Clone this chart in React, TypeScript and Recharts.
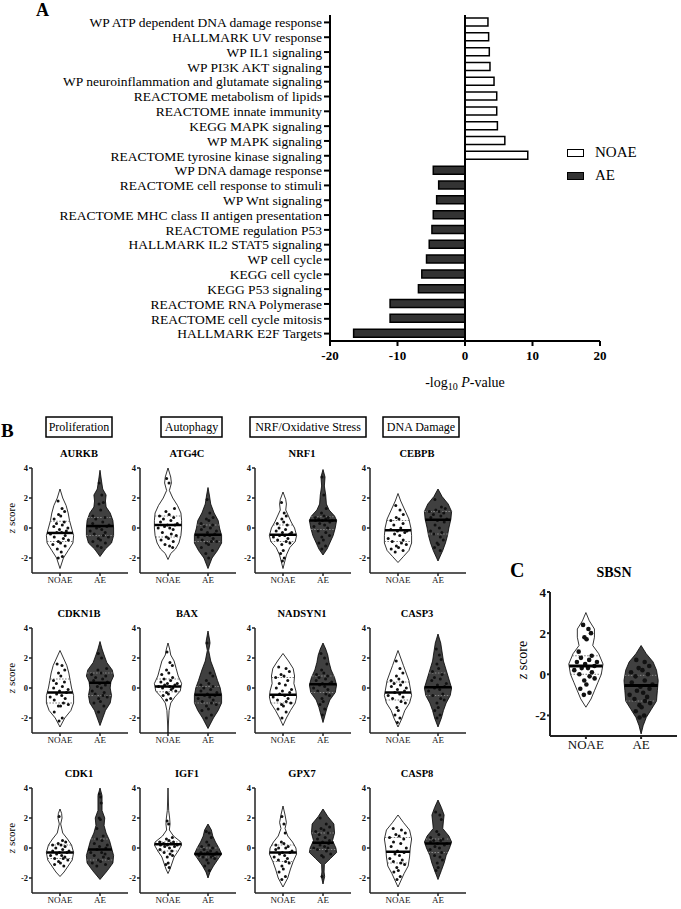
import React from 'react';
import { BarChart, Bar, XAxis, YAxis, ReferenceLine, Legend, ScatterChart, Scatter } from 'recharts';

const FONT = '"Liberation Serif", "Times New Roman", Times, serif';

// ---------- Panel A data ----------
const pathwayNames = [
  'WP ATP dependent DNA damage response',
  'HALLMARK UV response',
  'WP IL1 signaling',
  'WP PI3K AKT signaling',
  'WP neuroinflammation and glutamate signaling',
  'REACTOME metabolism of lipids',
  'REACTOME innate immunity',
  'KEGG MAPK signaling',
  'WP MAPK signaling',
  'REACTOME tyrosine kinase signaling',
  'WP DNA damage response',
  'REACTOME cell response to stimuli',
  'WP Wnt signaling',
  'REACTOME MHC class II antigen presentation',
  'REACTOME regulation P53',
  'HALLMARK IL2 STAT5 signaling',
  'WP cell cycle',
  'KEGG cell cycle',
  'KEGG P53 signaling',
  'REACTOME RNA Polymerase',
  'REACTOME cell cycle mitosis',
  'HALLMARK E2F Targets',
];
const noaeValues = [3.4, 3.5, 3.6, 3.7, 4.3, 4.7, 4.7, 4.8, 5.9, 9.3, null, null, null, null, null, null, null, null, null, null, null, null];
const aeValues = [null, null, null, null, null, null, null, null, null, null, -4.7, -3.9, -4.2, -4.7, -4.9, -5.3, -5.7, -6.4, -6.9, -11.1, -11.1, -16.5];
const barTicks = [-20, -10, 0, 10, 20];
const legendOrder = ['NOAE', 'AE'];

// ---------- Violin data: shape = [z, relative half width], dots = z values, stats = [q1, median, q3] ----------
type Pair = [number, number];

const AURKB_NOAE_SHAPE: Pair[] = [[2.6, 0], [2.0, 0.2], [1.5, 0.45], [1.0, 0.6], [0.5, 0.7], [0, 0.85], [-0.5, 1], [-1.0, 0.95], [-1.5, 0.6], [-2.0, 0.25], [-2.7, 0]];
const AURKB_NOAE_DOTS = [1.8, 1.3, 1.1, 0.9, 0.8, 0.6, 0.4, 0.3, 0.2, 0.1, 0, -0.1, -0.2, -0.3, -0.3, -0.4, -0.5, -0.6, -0.7, -0.8, -0.9, -1.0, -1.1, -1.2, -1.4, -1.6, -1.9, -2.0];
const AURKB_NOAE_STATS = [-0.9, -0.33, 0.45];
const AURKB_AE_SHAPE: Pair[] = [[3.85, 0], [3.2, 0.1], [2.6, 0.2], [2.2, 0.45], [1.8, 0.4], [1.4, 0.45], [1.0, 0.75], [0.5, 0.95], [0, 1], [-0.5, 1], [-1.0, 0.85], [-1.4, 0.4], [-1.9, 0]];
const AURKB_AE_DOTS = [3.0, 2.2, 1.7, 1.6, 1.2, 0.8, 0.7, 0.6, 0.4, 0.3, 0.2, 0.1, 0.1, 0, -0.1, -0.2, -0.3, -0.4, -0.5, -0.6, -0.7, -0.8, -0.9, -1.0, -1.2, -1.3];
const AURKB_AE_STATS = [-0.5, 0.13, 0.7];

const ATG4C_NOAE_SHAPE: Pair[] = [[4.0, 0], [3.4, 0.2], [3.0, 0.25], [2.5, 0.1], [2.0, 0.35], [1.5, 0.7], [1.0, 0.95], [0.5, 1], [0, 1], [-0.5, 0.95], [-1.0, 0.8], [-1.4, 0.55], [-1.7, 0.2], [-2.1, 0]];
const ATG4C_NOAE_DOTS = [3.3, 3.0, 1.3, 1.1, 0.9, 0.8, 0.7, 0.6, 0.5, 0.4, 0.3, 0.2, 0.2, 0.1, 0, 0, -0.1, -0.3, -0.4, -0.5, -0.6, -0.7, -0.8, -0.9, -1.1, -1.2, -1.3];
const ATG4C_NOAE_STATS = [-0.6, 0.2, 0.8];
const ATG4C_AE_SHAPE: Pair[] = [[2.7, 0], [2.2, 0.1], [1.6, 0.2], [1.0, 0.45], [0.5, 0.75], [0, 0.85], [-0.5, 1], [-1.0, 1], [-1.5, 0.7], [-2.0, 0.3], [-2.7, 0]];
const ATG4C_AE_DOTS = [1.9, 1.0, 0.7, 0.6, 0.5, 0.3, 0.2, 0.1, 0, -0.1, -0.2, -0.3, -0.4, -0.5, -0.5, -0.6, -0.7, -0.8, -0.9, -0.9, -1.0, -1.1, -1.3, -1.5, -1.7, -2.0];
const ATG4C_AE_STATS = [-0.9, -0.45, 0.2];

const NRF1_NOAE_SHAPE: Pair[] = [[2.4, 0], [1.9, 0.2], [1.6, 0.25], [1.2, 0.2], [0.8, 0.4], [0.4, 0.6], [0, 0.85], [-0.5, 1], [-0.9, 0.9], [-1.3, 0.5], [-1.8, 0.25], [-2.7, 0]];
const NRF1_NOAE_DOTS = [1.7, 1.0, 0.8, 0.6, 0.4, 0.3, 0.2, 0, -0.1, -0.2, -0.3, -0.3, -0.4, -0.5, -0.5, -0.6, -0.7, -0.8, -0.9, -1.0, -1.1, -1.5, -1.7, -2.0, -2.2];
const NRF1_NOAE_STATS = [-0.9, -0.45, 0.2];
const NRF1_AE_SHAPE: Pair[] = [[3.9, 0], [3.4, 0.15], [2.8, 0.1], [2.2, 0.2], [1.6, 0.25], [1.2, 0.45], [0.8, 0.85], [0.5, 1], [0, 0.9], [-0.5, 0.75], [-1.0, 0.5], [-1.4, 0.3], [-1.8, 0]];
const NRF1_AE_DOTS = [3.4, 2.2, 1.3, 1.0, 0.8, 0.7, 0.7, 0.6, 0.6, 0.5, 0.5, 0.5, 0.4, 0.3, 0.2, 0.1, 0, -0.2, -0.3, -0.5, -0.6, -0.8, -1.0, -1.2, -1.4];
const NRF1_AE_STATS = [-0.1, 0.5, 0.75];

const CEBPB_NOAE_SHAPE: Pair[] = [[2.3, 0], [1.8, 0.2], [1.2, 0.5], [0.6, 0.8], [0, 0.95], [-0.5, 1], [-1.0, 1], [-1.5, 0.8], [-1.9, 0.4], [-2.3, 0]];
const CEBPB_NOAE_DOTS = [1.5, 1.2, 0.9, 0.7, 0.6, 0.5, 0.3, 0.2, 0, -0.1, -0.2, -0.2, -0.3, -0.4, -0.5, -0.7, -0.8, -0.9, -1.0, -1.1, -1.2, -1.3, -1.4, -1.5, -1.6];
const CEBPB_NOAE_STATS = [-0.9, -0.15, 0.5];
const CEBPB_AE_SHAPE: Pair[] = [[2.6, 0], [2.1, 0.3], [1.6, 0.75], [1.1, 1], [0.6, 0.95], [0, 0.8], [-0.5, 0.7], [-1.0, 0.55], [-1.5, 0.35], [-2.2, 0]];
const CEBPB_AE_DOTS = [1.9, 1.4, 1.3, 1.2, 1.1, 1.1, 1.0, 0.9, 0.8, 0.7, 0.6, 0.5, 0.4, 0.2, 0, -0.2, -0.3, -0.4, -0.6, -0.8, -1.0, -1.1, -1.3, -1.5];
const CEBPB_AE_STATS = [-0.4, 0.55, 1.1];

const CDKN1B_NOAE_SHAPE: Pair[] = [[2.5, 0], [2.0, 0.25], [1.5, 0.5], [1.0, 0.65], [0.5, 0.75], [0, 0.85], [-0.5, 1], [-1.0, 1], [-1.5, 0.8], [-2.0, 0.35], [-2.6, 0]];
const CDKN1B_NOAE_DOTS = [1.6, 1.5, 1.2, 1.0, 0.8, 0.5, 0.4, 0.3, 0.1, 0, -0.1, -0.2, -0.3, -0.4, -0.5, -0.6, -0.7, -0.8, -1.0, -1.1, -1.2, -1.2, -1.6, -2.0, -2.2];
const CDKN1B_NOAE_STATS = [-1.0, -0.3, 0.6];
const CDKN1B_AE_SHAPE: Pair[] = [[3.1, 0], [2.6, 0.15], [2.2, 0.3], [1.7, 0.5], [1.2, 0.9], [0.8, 1], [0.4, 0.8], [0, 0.75], [-0.5, 0.85], [-1.0, 0.75], [-1.5, 0.4], [-2.0, 0.2], [-2.5, 0]];
const CDKN1B_AE_DOTS = [2.3, 2.0, 1.3, 1.2, 1.0, 0.9, 0.8, 0.7, 0.6, 0.5, 0.4, 0.3, 0.2, 0.1, 0, -0.2, -0.3, -0.4, -0.5, -0.6, -0.7, -0.9, -1.0, -1.2, -1.6];
const CDKN1B_AE_STATS = [-0.5, 0.35, 1.0];

const BAX_NOAE_SHAPE: Pair[] = [[3.0, 0], [2.6, 0.12], [2.2, 0.2], [1.8, 0.45], [1.3, 0.6], [0.8, 0.75], [0.3, 1], [-0.2, 0.9], [-0.6, 0.5], [-1.0, 0.2], [-1.5, 0.08], [-2.2, 0.04], [-3.0, 0]];
const BAX_NOAE_DOTS = [2.4, 1.7, 1.5, 1.2, 1.0, 0.9, 0.7, 0.6, 0.5, 0.4, 0.3, 0.3, 0.2, 0.2, 0.1, 0.1, 0, 0, -0.1, -0.2, -0.3, -0.4, -0.5, -0.7, -0.8];
const BAX_NOAE_STATS = [-0.25, 0.1, 0.6];
const BAX_AE_SHAPE: Pair[] = [[3.8, 0], [3.2, 0.12], [3.0, 0.15], [2.5, 0.05], [1.8, 0.2], [1.2, 0.45], [0.5, 0.7], [0, 0.9], [-0.5, 1], [-1.0, 1], [-1.5, 0.75], [-2.0, 0.4], [-2.7, 0]];
const BAX_AE_DOTS = [3.0, 1.0, 0.8, 0.5, 0.3, 0.2, 0.1, 0, -0.1, -0.2, -0.3, -0.4, -0.5, -0.5, -0.6, -0.7, -0.8, -0.9, -1.0, -1.1, -1.2, -1.4, -1.5, -1.8, -2.0];
const BAX_AE_STATS = [-1.0, -0.45, 0.1];

const NADSYN1_NOAE_SHAPE: Pair[] = [[2.3, 0], [1.8, 0.4], [1.3, 0.75], [0.8, 0.85], [0.3, 0.8], [-0.2, 0.95], [-0.6, 1], [-1.0, 0.9], [-1.5, 0.55], [-2.0, 0.25], [-2.5, 0]];
const NADSYN1_NOAE_DOTS = [1.4, 1.3, 1.1, 0.9, 0.8, 0.7, 0.5, 0.3, 0.2, 0, -0.1, -0.2, -0.3, -0.4, -0.5, -0.6, -0.7, -0.8, -0.9, -1.0, -1.1, -1.2, -1.4, -1.6, -2.0];
const NADSYN1_NOAE_STATS = [-1.0, -0.45, 0.7];
const NADSYN1_AE_SHAPE: Pair[] = [[3.0, 0], [2.6, 0.2], [2.2, 0.35], [1.7, 0.45], [1.2, 0.6], [0.7, 0.85], [0.2, 1], [-0.3, 0.9], [-0.8, 0.5], [-1.3, 0.3], [-1.8, 0.15], [-2.3, 0]];
const NADSYN1_AE_DOTS = [2.3, 2.0, 1.6, 1.2, 1.0, 0.9, 0.8, 0.7, 0.6, 0.5, 0.4, 0.3, 0.3, 0.2, 0.1, 0, -0.1, -0.2, -0.4, -0.5, -0.7, -0.9, -1.1, -1.4, -1.8];
const NADSYN1_AE_STATS = [-0.3, 0.25, 0.8];

const CASP3_NOAE_SHAPE: Pair[] = [[2.5, 0], [2.0, 0.2], [1.5, 0.4], [1.0, 0.6], [0.5, 0.8], [0, 0.9], [-0.5, 1], [-1.0, 0.85], [-1.5, 0.5], [-2.0, 0.3], [-2.6, 0]];
const CASP3_NOAE_DOTS = [1.8, 1.3, 1.0, 0.8, 0.6, 0.5, 0.4, 0.3, 0.2, 0.1, 0, -0.1, -0.2, -0.3, -0.4, -0.5, -0.6, -0.7, -0.9, -1.0, -1.3, -1.5, -1.8, -2.0, -2.3];
const CASP3_NOAE_STATS = [-0.8, -0.3, 0.4];
const CASP3_AE_SHAPE: Pair[] = [[3.6, 0], [3.0, 0.2], [2.4, 0.3], [1.8, 0.4], [1.2, 0.6], [0.6, 0.8], [0, 1], [-0.5, 0.9], [-1.0, 0.6], [-1.5, 0.4], [-2.0, 0.25], [-2.6, 0]];
const CASP3_AE_DOTS = [2.6, 2.2, 1.9, 1.6, 1.3, 1.1, 0.9, 0.7, 0.6, 0.5, 0.3, 0.2, 0.1, 0, -0.1, -0.2, -0.4, -0.5, -0.7, -0.8, -1.0, -1.3, -1.5, -1.8, -2.0];
const CASP3_AE_STATS = [-0.5, 0.05, 1.0];

const CDK1_NOAE_SHAPE: Pair[] = [[2.6, 0], [2.3, 0.12], [2.0, 0.15], [1.6, 0.05], [1.0, 0.2], [0.6, 0.55], [0.2, 0.85], [-0.3, 1], [-0.8, 0.9], [-1.2, 0.6], [-1.6, 0.3], [-1.9, 0]];
const CDK1_NOAE_DOTS = [2.1, 0.5, 0.4, 0.3, 0.2, 0.2, 0.1, 0, -0.1, -0.2, -0.2, -0.3, -0.3, -0.4, -0.5, -0.5, -0.6, -0.7, -0.7, -0.8, -0.9, -1.0, -1.1, -1.2];
const CDK1_NOAE_STATS = [-0.7, -0.3, 0.2];
const CDK1_AE_SHAPE: Pair[] = [[4.0, 0], [3.5, 0.15], [3.0, 0.15], [2.5, 0.15], [2.0, 0.35], [1.5, 0.3], [1.0, 0.45], [0.5, 0.7], [0, 0.85], [-0.5, 1], [-1.0, 0.95], [-1.5, 0.55], [-2.1, 0]];
const CDK1_AE_DOTS = [3.6, 3.4, 3.0, 2.0, 1.9, 1.3, 0.8, 0.6, 0.5, 0.3, 0.2, 0.1, 0, -0.1, -0.3, -0.3, -0.4, -0.5, -0.6, -0.7, -0.8, -0.9, -1.0, -1.1, -1.2];
const CDK1_AE_STATS = [-0.8, -0.1, 0.6];

const IGF1_NOAE_SHAPE: Pair[] = [[4.0, 0], [2.5, 0.05], [2.0, 0.12], [1.6, 0.15], [1.2, 0.1], [0.8, 0.4], [0.4, 0.95], [0.2, 1], [-0.2, 0.75], [-0.6, 0.45], [-1.0, 0.3], [-1.4, 0.15], [-1.7, 0]];
const IGF1_NOAE_DOTS = [1.8, 1.6, 0.7, 0.6, 0.5, 0.4, 0.4, 0.3, 0.3, 0.2, 0.2, 0.2, 0.1, 0.1, 0, -0.1, -0.2, -0.3, -0.4, -0.5, -0.6, -1.0, -1.1, -1.3];
const IGF1_NOAE_STATS = [-0.2, 0.25, 0.4];
const IGF1_AE_SHAPE: Pair[] = [[1.6, 0], [1.2, 0.25], [0.8, 0.35], [0.4, 0.55], [0, 0.8], [-0.4, 1], [-0.8, 0.7], [-1.2, 0.4], [-1.6, 0.15], [-2.0, 0]];
const IGF1_AE_DOTS = [1.1, 1.0, 0.7, 0.4, 0.2, 0.1, 0, -0.1, -0.2, -0.3, -0.3, -0.3, -0.4, -0.4, -0.4, -0.5, -0.5, -0.6, -0.6, -0.7, -0.8, -1.0, -1.2, -1.5];
const IGF1_AE_STATS = [-0.6, -0.4, 0];

const GPX7_NOAE_SHAPE: Pair[] = [[2.8, 0], [2.2, 0.15], [1.7, 0.25], [1.3, 0.15], [0.8, 0.35], [0.4, 0.7], [0, 0.95], [-0.4, 1], [-0.9, 0.75], [-1.4, 0.55], [-2.0, 0.35], [-2.6, 0]];
const GPX7_NOAE_DOTS = [2.1, 1.6, 1.0, 0.4, 0.3, 0.2, 0.1, 0, 0, -0.1, -0.2, -0.3, -0.3, -0.4, -0.5, -0.6, -0.7, -0.8, -0.9, -1.0, -1.2, -1.4, -1.6, -1.9, -2.1];
const GPX7_NOAE_STATS = [-0.9, -0.3, 0.2];
const GPX7_AE_SHAPE: Pair[] = [[2.6, 0], [2.1, 0.35], [1.6, 0.8], [1.0, 0.85], [0.5, 0.7], [0, 0.95], [-0.3, 1], [-0.7, 0.55], [-1.1, 0.1], [-1.6, 0.08], [-1.9, 0.12], [-2.4, 0]];
const GPX7_AE_DOTS = [2.0, 1.6, 1.4, 1.3, 1.2, 1.1, 1.0, 0.9, 0.7, 0.6, 0.5, 0.4, 0.3, 0.2, 0.1, 0, 0, -0.1, -0.2, -0.4, -0.5, -0.6, -1.9];
const GPX7_AE_STATS = [-0.1, 0.35, 1.0];

const CASP8_NOAE_SHAPE: Pair[] = [[2.2, 0], [1.7, 0.4], [1.2, 0.85], [0.6, 1], [0, 0.9], [-0.6, 0.85], [-1.2, 0.75], [-1.7, 0.45], [-2.2, 0.2], [-2.6, 0]];
const CASP8_NOAE_DOTS = [1.3, 1.2, 1.0, 0.9, 0.8, 0.7, 0.6, 0.4, 0.3, 0.1, 0, -0.2, -0.3, -0.4, -0.5, -0.7, -0.8, -0.9, -1.0, -1.1, -1.3, -1.5, -1.6, -1.9, -2.1];
const CASP8_NOAE_STATS = [-1.0, -0.25, 0.7];
const CASP8_AE_SHAPE: Pair[] = [[3.2, 0], [2.7, 0.25], [2.2, 0.45], [1.8, 0.4], [1.3, 0.35], [0.8, 0.8], [0.4, 1], [0, 0.85], [-0.5, 0.6], [-1.0, 0.45], [-1.5, 0.25], [-2.1, 0]];
const CASP8_AE_DOTS = [2.4, 2.2, 1.9, 1.1, 0.9, 0.7, 0.6, 0.5, 0.5, 0.4, 0.3, 0.3, 0.2, 0.1, 0, -0.1, -0.3, -0.5, -0.6, -0.8, -1.0, -1.3, -1.5];
const CASP8_AE_STATS = [-0.3, 0.3, 0.6];

const SBSN_NOAE_SHAPE: Pair[] = [[3.0, 0], [2.6, 0.2], [2.2, 0.5], [1.8, 0.5], [1.4, 0.4], [1.0, 0.75], [0.5, 1], [0, 0.9], [-0.4, 0.7], [-0.8, 0.5], [-1.2, 0.3], [-1.6, 0]];
const SBSN_NOAE_DOTS = [2.4, 2.2, 2.0, 1.8, 1.7, 1.1, 0.9, 0.8, 0.7, 0.6, 0.6, 0.5, 0.4, 0.3, 0.3, 0.2, 0.1, 0, -0.1, -0.2, -0.3, -0.5, -0.7, -0.9, -1.0];
const SBSN_NOAE_STATS = [0, 0.4, 0.9];
const SBSN_AE_SHAPE: Pair[] = [[1.4, 0], [1.0, 0.3], [0.6, 0.7], [0.2, 0.9], [-0.3, 1], [-0.8, 0.95], [-1.3, 0.9], [-1.7, 0.6], [-2.1, 0.3], [-2.5, 0.12], [-2.9, 0]];
const SBSN_AE_DOTS = [0.7, 0.6, 0.4, 0.3, 0.2, 0.1, 0, -0.1, -0.3, -0.4, -0.5, -0.6, -0.7, -0.8, -0.9, -1.0, -1.1, -1.2, -1.3, -1.4, -1.5, -1.6, -1.8, -2.0, -2.1];
const SBSN_AE_STATS = [-1.3, -0.55, -0.05];

const groupLabels = ['NOAE', 'AE'];
const violinTicks = [-2, 0, 2, 4];
const categoryBoxes = ['Proliferation', 'Autophagy', 'NRF/Oxidative Stress', 'DNA Damage'];

// horizontal spread pattern for the dots (layout only)
const JITTER = [-0.55, 0.35, 0.7, -0.2, 0.1, -0.75, 0.5, -0.4, 0.25, -0.65, 0.8, -0.05, 0.6, -0.3, 0.15, -0.85, 0.45, -0.5, 0.3, 0.75, -0.15, 0.05, -0.7, 0.55, -0.35, 0.2, 0.65, -0.6, 0.4, -0.25];

type Group = { shape: Pair[]; dots: number[]; stats: number[] };
type Gene = { name: string; noae: Group; ae: Group };
const mk = (name: string, ns: Pair[], nd: number[], nq: number[], as: Pair[], ad: number[], aq: number[]): Gene => ({
  name,
  noae: { shape: ns, dots: nd, stats: nq },
  ae: { shape: as, dots: ad, stats: aq },
});

const GRID_GENES: Gene[][] = [
  [
    mk('AURKB', AURKB_NOAE_SHAPE, AURKB_NOAE_DOTS, AURKB_NOAE_STATS, AURKB_AE_SHAPE, AURKB_AE_DOTS, AURKB_AE_STATS),
    mk('ATG4C', ATG4C_NOAE_SHAPE, ATG4C_NOAE_DOTS, ATG4C_NOAE_STATS, ATG4C_AE_SHAPE, ATG4C_AE_DOTS, ATG4C_AE_STATS),
    mk('NRF1', NRF1_NOAE_SHAPE, NRF1_NOAE_DOTS, NRF1_NOAE_STATS, NRF1_AE_SHAPE, NRF1_AE_DOTS, NRF1_AE_STATS),
    mk('CEBPB', CEBPB_NOAE_SHAPE, CEBPB_NOAE_DOTS, CEBPB_NOAE_STATS, CEBPB_AE_SHAPE, CEBPB_AE_DOTS, CEBPB_AE_STATS),
  ],
  [
    mk('CDKN1B', CDKN1B_NOAE_SHAPE, CDKN1B_NOAE_DOTS, CDKN1B_NOAE_STATS, CDKN1B_AE_SHAPE, CDKN1B_AE_DOTS, CDKN1B_AE_STATS),
    mk('BAX', BAX_NOAE_SHAPE, BAX_NOAE_DOTS, BAX_NOAE_STATS, BAX_AE_SHAPE, BAX_AE_DOTS, BAX_AE_STATS),
    mk('NADSYN1', NADSYN1_NOAE_SHAPE, NADSYN1_NOAE_DOTS, NADSYN1_NOAE_STATS, NADSYN1_AE_SHAPE, NADSYN1_AE_DOTS, NADSYN1_AE_STATS),
    mk('CASP3', CASP3_NOAE_SHAPE, CASP3_NOAE_DOTS, CASP3_NOAE_STATS, CASP3_AE_SHAPE, CASP3_AE_DOTS, CASP3_AE_STATS),
  ],
  [
    mk('CDK1', CDK1_NOAE_SHAPE, CDK1_NOAE_DOTS, CDK1_NOAE_STATS, CDK1_AE_SHAPE, CDK1_AE_DOTS, CDK1_AE_STATS),
    mk('IGF1', IGF1_NOAE_SHAPE, IGF1_NOAE_DOTS, IGF1_NOAE_STATS, IGF1_AE_SHAPE, IGF1_AE_DOTS, IGF1_AE_STATS),
    mk('GPX7', GPX7_NOAE_SHAPE, GPX7_NOAE_DOTS, GPX7_NOAE_STATS, GPX7_AE_SHAPE, GPX7_AE_DOTS, GPX7_AE_STATS),
    mk('CASP8', CASP8_NOAE_SHAPE, CASP8_NOAE_DOTS, CASP8_NOAE_STATS, CASP8_AE_SHAPE, CASP8_AE_DOTS, CASP8_AE_STATS),
  ],
];
const SBSN_GENE = mk('SBSN', SBSN_NOAE_SHAPE, SBSN_NOAE_DOTS, SBSN_NOAE_STATS, SBSN_AE_SHAPE, SBSN_AE_DOTS, SBSN_AE_STATS);

// ---------- layout ----------
const COL_AXIS_X = [32, 140, 255, 370];
const ROW_PLOT_TOP = [468, 628, 788];
const BOX_RECTS = [[46, 66], [161, 61], [250, 116], [383, 76]];

function widthAt(shape: Pair[], y: number): number {
  for (let i = 0; i < shape.length - 1; i++) {
    const [y0, w0] = shape[i];
    const [y1, w1] = shape[i + 1];
    if (y <= y0 && y >= y1) {
      const t = y0 === y1 ? 0 : (y0 - y) / (y0 - y1);
      return w0 + (w1 - w0) * t;
    }
  }
  return 0;
}

const NoShape = () => <g />;

function renderGroup(g: Group, center: number, W: number, fill: string, quartColor: string, dotR: number, medW: number, key: string) {
  const outline = [
    ...g.shape.map(([y, w]) => ({ x: center + w * W, y })),
    ...g.shape.slice().reverse().map(([y, w]) => ({ x: center - w * W, y })),
  ];
  const seg = (y: number) => {
    const w = widthAt(g.shape, y) * W;
    return [{ x: center - w, y }, { x: center + w, y }];
  };
  const dots = g.dots.map((y, i) => ({
    x: center + JITTER[i % JITTER.length] * W * Math.max(widthAt(g.shape, y), 0.12) * 0.85,
    y,
  }));
  const dotShape = (p: any) => <circle cx={p.cx} cy={p.cy} r={dotR} fill="#111" />;
  return [
    <Scatter key={key + 'v'} data={outline} shape={NoShape} line={{ fill, stroke: '#000', strokeWidth: 0.8 }} lineJointType="linearClosed" isAnimationActive={false} />,
    <Scatter key={key + 'q1'} data={seg(g.stats[0])} shape={NoShape} line={{ stroke: quartColor, strokeWidth: 0.8, strokeDasharray: '1.5 1.5' }} isAnimationActive={false} />,
    <Scatter key={key + 'q3'} data={seg(g.stats[2])} shape={NoShape} line={{ stroke: quartColor, strokeWidth: 0.8, strokeDasharray: '1.5 1.5' }} isAnimationActive={false} />,
    <Scatter key={key + 'd'} data={dots} shape={dotShape} isAnimationActive={false} />,
    <Scatter key={key + 'm'} data={seg(g.stats[1])} shape={NoShape} line={{ stroke: '#000', strokeWidth: medW }} isAnimationActive={false} />,
  ];
}

type VProps = {
  gene: Gene; axisX: number; plotTop: number; plotW: number; plotH: number; domain: [number, number];
  W: number; dotR: number; yFont: number; xFont: number; yAxisW: number; xAxisH: number; medW: number; axisW: number;
};

function ViolinChart(p: VProps) {
  const topM = 10;
  return (
    <div style={{ position: 'absolute', left: p.axisX - p.yAxisW, top: p.plotTop - topM }}>
      <ScatterChart width={p.yAxisW + p.plotW + 4} height={topM + p.plotH + p.xAxisH} margin={{ top: topM, right: 4, bottom: 0, left: 0 }}>
        <XAxis
          type="number"
          dataKey="x"
          domain={p.domain}
          ticks={[1, 2]}
          interval={0}
          tickFormatter={(v: number) => groupLabels[v - 1]}
          height={p.xAxisH}
          axisLine={{ stroke: '#222', strokeWidth: p.axisW }}
          tickLine={{ stroke: '#222', strokeWidth: p.axisW }}
          tickSize={3}
          tickMargin={1}
          tick={{ fontFamily: FONT, fontSize: p.xFont, fill: '#111' }}
        />
        <YAxis
          type="number"
          dataKey="y"
          domain={[-3, 4]}
          ticks={violinTicks}
          interval={0}
          width={p.yAxisW}
          axisLine={{ stroke: '#222', strokeWidth: p.axisW }}
          tickLine={{ stroke: '#222', strokeWidth: p.axisW }}
          tickSize={3}
          tickMargin={1}
          tick={{ fontFamily: FONT, fontSize: p.yFont, fontWeight: 'bold', fill: '#111' }}
        />
        {renderGroup(p.gene.noae, 1, p.W, '#ffffff', '#555', p.dotR, p.medW, 'n')}
        {renderGroup(p.gene.ae, 2, p.W, '#404040', '#999', p.dotR, p.medW, 'a')}
      </ScatterChart>
    </div>
  );
}

const barData = pathwayNames.map((name, i) => ({ name, noae: noaeValues[i], ae: aeValues[i] }));

function BarLegend(props: any) {
  const items = (props.payload || []).slice().sort(
    (a: any, b: any) => legendOrder.indexOf(a.value) - legendOrder.indexOf(b.value)
  );
  return (
    <div style={{ fontFamily: FONT }}>
      {items.map((it: any, i: number) => (
        <div key={i} style={{ display: 'flex', alignItems: 'center', height: 23 }}>
          <div style={{ width: 15, height: 6, border: '1.5px solid #000', background: it.color, marginRight: 11 }} />
          <span style={{ fontSize: 15, color: '#000' }}>{it.value}</span>
        </div>
      ))}
    </div>
  );
}

export default function App() {
  return (
    <div style={{ position: 'absolute', left: 0, top: 0, width: 681, height: 909, background: '#fff', overflow: 'hidden', fontFamily: FONT }}>
      <div style={{ position: 'absolute', left: 0, top: 0 }}>
        <BarChart width={681} height={400} data={barData} layout="vertical" margin={{ top: 15, right: 81, bottom: 19, left: 0 }}>
          <XAxis
            type="number"
            domain={[-20, 20]}
            ticks={barTicks}
            interval={0}
            height={40}
            axisLine={{ stroke: '#000', strokeWidth: 2 }}
            tickLine={{ stroke: '#000', strokeWidth: 2 }}
            tickSize={5}
            tickMargin={5}
            tick={{ fontFamily: FONT, fontSize: 13, fontWeight: 'bold', fill: '#000' }}
          />
          <YAxis
            type="category"
            dataKey="name"
            width={330}
            interval={0}
            axisLine={{ stroke: '#000', strokeWidth: 2 }}
            tickLine={{ stroke: '#000', strokeWidth: 2 }}
            tickSize={6}
            tick={{ fontFamily: FONT, fontSize: 13.5, fill: '#000' }}
          />
          <Bar dataKey="noae" name="NOAE" stackId="s" fill="#ffffff" stroke="#000" strokeWidth={1.5} barSize={8} isAnimationActive={false} />
          <Bar dataKey="ae" name="AE" stackId="s" fill="#333333" stroke="#000" strokeWidth={1.5} barSize={8} isAnimationActive={false} />
          <ReferenceLine x={0} stroke="#000" strokeWidth={2} />
          <Legend layout="vertical" align="center" verticalAlign="middle" wrapperStyle={{ position: 'absolute', left: 567, top: 141, width: 100 }} content={(props: any) => <BarLegend {...props} />} />
        </BarChart>
      </div>

      {GRID_GENES.map((row, r) =>
        row.map((gene, c) => (
          <ViolinChart
            key={gene.name}
            gene={gene}
            axisX={COL_AXIS_X[c]}
            plotTop={ROW_PLOT_TOP[r]}
            plotW={96}
            plotH={105}
            domain={[0.3, 2.7]}
            W={0.34}
            dotR={1.5}
            yFont={8.5}
            xFont={9}
            yAxisW={22}
            xAxisH={22}
            medW={2.5}
            axisW={1.5}
          />
        ))
      )}

      <ViolinChart
        gene={SBSN_GENE}
        axisX={550}
        plotTop={592}
        plotW={127}
        plotH={144}
        domain={[0.35, 2.65]}
        W={0.31}
        dotR={2.3}
        yFont={13}
        xFont={13}
        yAxisW={30}
        xAxisH={30}
        medW={3}
        axisW={2}
      />

      <svg width={681} height={909} style={{ position: 'absolute', left: 0, top: 0, pointerEvents: 'none' }} fontFamily={FONT}>
        <text x={36} y={16} fontSize={18} fontWeight="bold">A</text>
        <text x={465} y={387} fontSize={14} textAnchor="middle">
          -log<tspan fontSize={10} dy={3}>10</tspan><tspan dy={-3}> </tspan><tspan fontStyle="italic">P</tspan>-value
        </text>
        <text x={1} y={437} fontSize={19} fontWeight="bold">B</text>
        {categoryBoxes.map((label, i) => (
          <g key={label}>
            <rect x={BOX_RECTS[i][0]} y={417} width={BOX_RECTS[i][1]} height={20} fill="#fff" stroke="#000" strokeWidth={1.5} />
            <text x={BOX_RECTS[i][0] + BOX_RECTS[i][1] / 2} y={431} fontSize={12} textAnchor="middle">{label}</text>
          </g>
        ))}
        {GRID_GENES.map((row, r) =>
          row.map((gene, c) => (
            <text key={gene.name} x={COL_AXIS_X[c] + 47} y={ROW_PLOT_TOP[r] - 11} fontSize={10.5} fontWeight="bold" textAnchor="middle">{gene.name}</text>
          ))
        )}
        {ROW_PLOT_TOP.map((t) => (
          <text key={t} x={0} y={0} fontSize={11} textAnchor="middle" transform={`translate(15, ${t + 50}) rotate(-90)`}>
            <tspan fontStyle="italic">z</tspan> score
          </text>
        ))}
        <text x={510} y={577} fontSize={20} fontWeight="bold">C</text>
        <text x={614} y={577} fontSize={14} fontWeight="bold" textAnchor="middle">SBSN</text>
        <text x={0} y={0} fontSize={14} textAnchor="middle" transform="translate(527, 660) rotate(-90)">
          <tspan fontStyle="italic">z</tspan> score
        </text>
      </svg>
    </div>
  );
}
